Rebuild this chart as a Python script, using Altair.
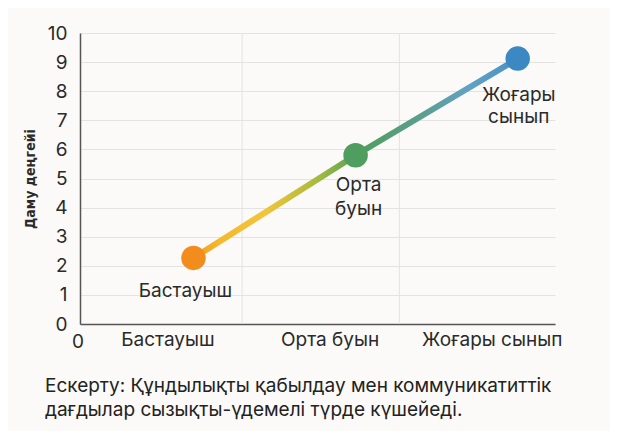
import altair as alt
import pandas as pd

categories = ["Бастауыш", "Орта буын", "Жоғары сынып"]
positions = [1, 2, 3]
values = [2.27, 5.8, 9.12]
point_labels = ["Бастауыш", "Орта\nбуын", "Жоғары\nсынып"]
point_colors = ["#f28c1c", "#4f9e5f", "#3b88c3"]
grid_x = [1.3, 2.27]
y_ticks = list(range(0, 11))
y_title = "Даму деңгейі"
note = ["Ескерту: Құндылықты қабылдау мен коммуникатиттік",
        "дағдылар сызықты-үдемелі түрде күшейеді."]

FONT = "Inter"
W, H = 475, 291

df = pd.DataFrame({"cat": categories, "pos": positions, "val": values,
                   "lab": point_labels, "col": point_colors})
grid_df = pd.DataFrame({"gx": grid_x})
note_df = pd.DataFrame({"t": ["\n".join(note)]})
zero_df = pd.DataFrame({"t": ["0"]})

label_map = "{" + ",".join(f"'{p}':'{c}'" for p, c in zip(positions, categories)) + "}"

xscale = alt.Scale(domain=[0.3, 3.23], nice=False, zero=False)
yscale = alt.Scale(domain=[0, 10], nice=False)

x_axis = alt.Axis(values=positions, labelExpr=f"{label_map}[datum.value]", grid=False,
                  ticks=False, title=None, labelFont=FONT, labelFontSize=19,
                  labelColor="#2a2a2a", labelOffset=-26, labelPadding=6,
                  labelOverlap=False, domainColor="#555555", domainWidth=1.5)
y_axis = alt.Axis(values=y_ticks, tickCount=11, labelOverlap=False, grid=True,
                  gridColor="#e3e3e3", ticks=False,
                  title=y_title, titleFont="DejaVu Sans Condensed, Roboto Condensed, Roboto, sans-serif",
                  titleFontSize=14,
                  titleFontWeight="bold", titleColor="#2a2a2a", titleAngle=-90,
                  titleX=-50, titleY=H / 2, titleAlign="center", titleBaseline="middle",
                  labelFont=FONT, labelFontSize=19, labelColor="#2a2a2a", labelPadding=13,
                  domainColor="#555555", domainWidth=1.5)

X = alt.X("pos:Q", scale=xscale, axis=x_axis)
Y = alt.Y("val:Q", scale=yscale, axis=y_axis)

base = alt.Chart(df)

vgrid = alt.Chart(grid_df).mark_rule(color="#e3e3e3", strokeWidth=1).encode(
    x=alt.X("gx:Q", scale=xscale, axis=x_axis))

line = base.mark_line(
    strokeWidth=6, strokeCap="round",
    color=alt.Gradient(
        gradient="linear", x1=0, x2=1, y1=0, y2=0,
        stops=[alt.GradientStop(offset=0, color="#f39a1e"),
               alt.GradientStop(offset=0.08, color="#f4b92c"),
               alt.GradientStop(offset=0.22, color="#f2c53a"),
               alt.GradientStop(offset=0.38, color="#a8bb3e"),
               alt.GradientStop(offset=0.515, color="#4f9f5c"),
               alt.GradientStop(offset=0.7, color="#5b9e8e"),
               alt.GradientStop(offset=0.85, color="#62a2c4"),
               alt.GradientStop(offset=1, color="#4a90c4")])
).encode(x=X, y=Y)

points = base.mark_circle(size=600, opacity=1).encode(
    x=X, y=Y, color=alt.Color("col:N", scale=None))

offsets = [(-8, 39, 24), (3, 36, 24), (1, 42, 22)]
texts = []
for cat, (dx, dy, lh) in zip(categories, offsets):
    texts.append(base.transform_filter(alt.datum.cat == cat).mark_text(
        font=FONT, fontSize=19, color="#2a2a2a", align="center", baseline="alphabetic",
        dx=dx, dy=dy, lineBreak="\n", lineHeight=lh).encode(
        x=X, y=Y, text="lab:N"))

zero = alt.Chart(zero_df).mark_text(font=FONT, fontSize=19, color="#2a2a2a",
                                    align="center", baseline="middle").encode(
    x=alt.value(-2), y=alt.value(H + 18), text="t:N")

footnote = alt.Chart(note_df).mark_text(font=FONT, fontSize=19, color="#222222",
                                        align="left", baseline="middle",
                                        lineBreak="\n", lineHeight=24).encode(
    x=alt.value(-35), y=alt.value(H + 62), text="t:N")

chart = alt.layer(vgrid, line, points, *texts, zero, footnote).properties(
    width=W, height=H,
    autosize=alt.AutoSizeParams(type="none"),
    padding={"left": 72, "top": 25, "right": 55, "bottom": 107},
    background="#fbfaf8",
).configure_view(stroke=None)

chart.save("out.html", embed_options={"renderer": "svg", "actions": False})
